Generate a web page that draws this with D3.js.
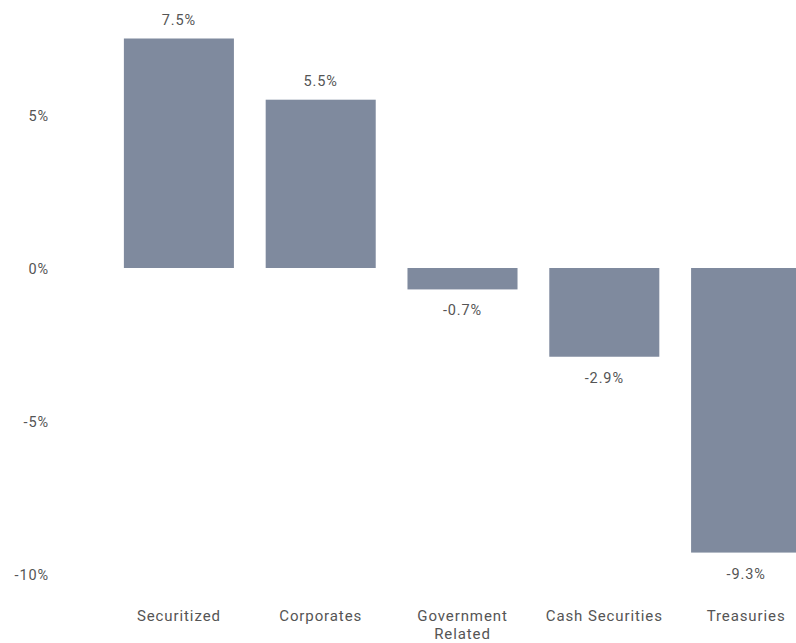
<!DOCTYPE html>
<html><head><meta charset="utf-8">
<script src="https://cdn.jsdelivr.net/npm/d3@7"></script>
<style>body{margin:0;background:#fff}svg text{font-family:Roboto,"Noto Sans",sans-serif;fill:#555;letter-spacing:0.9px}</style>
</head><body><svg id="c" width="796" height="643"></svg>
<script>
const categories = ["Securitized","Corporates","Government Related","Cash Securities","Treasuries"];
const values = [7.5, 5.5, -0.7, -2.9, -9.3];
const tickValues = [5, 0, -5, -10];
const svg = d3.select("#c");
const x = d3.scaleBand().domain(categories).range([108, 817]).paddingInner(0.224).paddingOuter(0.112);
const y = d3.scaleLinear().domain([-10, 5]).range([574, 115]);
svg.selectAll("rect").data(values).join("rect")
  .attr("x",(d,i)=>x(categories[i])).attr("width",x.bandwidth())
  .attr("y",d=>y(Math.max(0,d))).attr("height",d=>Math.abs(y(d)-y(0)))
  .attr("fill","#7f8a9e");
svg.selectAll(".vl").data(values).join("text").attr("class","vl")
  .attr("x",(d,i)=>x(categories[i])+x.bandwidth()/2)
  .attr("y",d=>d>=0? y(d)-19 : y(d)+21)
  .attr("dy","0.35em").attr("text-anchor","middle").attr("font-size",14.5)
  .text(d=>d.toFixed(1)+"%");
const ax = svg.append("g").attr("transform","translate(49,1)")
  .call(d3.axisLeft(y).tickValues(tickValues).tickSize(0).tickPadding(0).tickFormat(d=>d+"%"));
ax.select(".domain").remove();
ax.selectAll("text").attr("font-size",14.5).attr("font-family",null).attr("fill",null);
const bx = svg.append("g").attr("transform","translate(0,607)")
  .call(d3.axisBottom(x).tickSize(0).tickPadding(0).tickFormat(()=>""));
bx.select(".domain").remove();
bx.selectAll(".tick").each(function(d){
  const t = d3.select(this).append("text").attr("text-anchor","middle").attr("font-size",15).attr("y",9);
  const parts = d==="Government Related" ? ["Government","Related"] : [d];
  parts.forEach((p,i)=>t.append("tspan").attr("x",0).attr("dy",i?"1.15em":"0.35em").text(p));
});
</script></body></html>
